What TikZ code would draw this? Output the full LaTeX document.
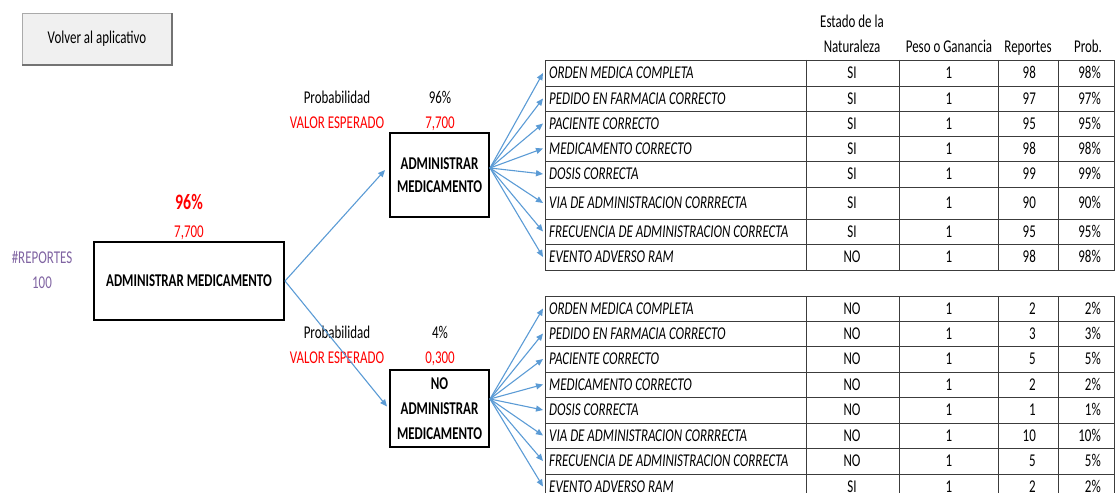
\documentclass[tikz,border=0pt]{standalone}
\usepackage{fontspec}
\setmainfont{Carlito}[FakeStretch=0.72]
\usetikzlibrary{arrows.meta}

\definecolor{arrowblue}{RGB}{91,155,213}
\definecolor{valred}{RGB}{255,0,0}
\definecolor{repviolet}{RGB}{128,100,162}
\definecolor{btnfill}{RGB}{240,240,240}
\definecolor{btnedge}{RGB}{170,170,170}
\definecolor{gridgray}{RGB}{60,60,60}

\tikzset{%
  % Specifications for style of nodes:
         lbl/.style = {inner sep=0pt, text height=11.6pt, text depth=0pt, font=\fontsize{18}{20}\selectfont},
         val/.style = {lbl, text=valred},
         box/.style = {rectangle, draw=black, line width=2pt, align=center, inner sep=0pt, font=\fontsize{18}{23}\selectfont\bfseries},
         btn/.style = {rectangle, draw=btnedge, fill=btnfill, minimum width=150pt, minimum height=51pt, font=\fontsize{18}{20}\selectfont},
        cell/.style = {lbl},
        grid/.style = {draw=gridgray, line width=0.9pt},
         arr/.style = {draw=arrowblue, line width=1.1pt, -{Triangle[length=7pt,width=6pt]}},
}

\begin{document}
\begin{tikzpicture}[x=1pt, y=-1pt]
    \clip (0,0) rectangle (1115,492);

    % Draw nodes
    \node (volver)    [btn]                  at (97,39)   {Volver al aplicativo};
    \draw[black!55, line width=2pt] (volver.north east) -- (volver.south east) -- (volver.south west);

    \node (reportes)  [lbl, text=repviolet]  at (42,258)  {\#REPORTES};
    \node (nrep)      [lbl, text=repviolet]  at (42,283)  {100};
    \node (probmain)  [val, font=\fontsize{22}{24}\selectfont\bfseries, text height=13.9pt] at (189,203) {96\%};
    \node (valmain)   [val]                  at (189,232) {7,700};
    \node (main)      [box, minimum width=190pt, minimum height=78pt] at (189,281) {ADMINISTRAR MEDICAMENTO};

    \node (probA)     [lbl]                  at (337,98)  {Probabilidad};
    \node (probAv)    [lbl]                  at (440,98)  {96\%};
    \node (esperA)    [val]                  at (337,123) {VALOR ESPERADO};
    \node (esperAv)   [val]                  at (440,123) {7,700};
    \node (admin)     [box, minimum width=99pt, minimum height=84pt] at (439.5,175) {ADMINISTRAR\\MEDICAMENTO};

    \node (probB)     [lbl]                  at (337,333) {Probabilidad};
    \node (probBv)    [lbl]                  at (440,333) {4\%};
    \node (esperB)    [val]                  at (337,358) {VALOR ESPERADO};
    \node (esperBv)   [val]                  at (440,358) {0,300};
    \node (noadmin)   [box, minimum width=99pt, minimum height=77pt, font=\fontsize{18}{25}\selectfont\bfseries] at (439.5,408.5) {NO\\ADMINISTRAR\\MEDICAMENTO};

    % Table header
    \node (estado)    [lbl]                  at (852,22)  {Estado de la};
    \node (natur)     [lbl]                  at (852,47)  {Naturaleza};
    \node (peso)      [lbl]                  at (949,47)  {Peso o Ganancia};
    \node (reps)      [lbl]                  at (1028,47) {Reportes};
    \node (prob)      [lbl]                  at (1088,47) {Prob.};

    % Upper table
    \foreach \ya/\yb/\lbltext/\est/\rep [count=\i] in {
        60/86/ORDEN MEDICA COMPLETA/SI/98,
        86/111/PEDIDO EN FARMACIA CORRECTO/SI/97,
        111/136/PACIENTE CORRECTO/SI/95,
        136/161/MEDICAMENTO CORRECTO/SI/98,
        161/187/DOSIS CORRECTA/SI/99,
        187/219/VIA DE ADMINISTRACION CORRRECTA/SI/90,
        219/244/FRECUENCIA DE ADMINISTRACION CORRECTA/SI/95,
        244/270/EVENTO ADVERSO RAM/NO/98}{
      \draw[grid] (545,\ya) rectangle (1114,\yb);
      \foreach \x in {806,899,998,1058} \draw[grid] (\x,\ya) -- (\x,\yb);
      \node (rowA\i) [cell, anchor=west] at (549,{(\ya+\yb)/2}) {\itshape \lbltext};
      \node [cell] at (852,{(\ya+\yb)/2}) {\est};
      \node [cell] at (949,{(\ya+\yb)/2}) {1};
      \node [cell, anchor=east] at (1036,{(\ya+\yb)/2}) {\rep};
      \node [cell, anchor=east] at (1101,{(\ya+\yb)/2}) {\rep\%};
    }

    % Lower table
    \foreach \ya/\yb/\lbltext/\est/\rep [count=\i] in {
        296/321/ORDEN MEDICA COMPLETA/NO/2,
        321/346/PEDIDO EN FARMACIA CORRECTO/NO/3,
        346/372/PACIENTE CORRECTO/NO/5,
        372/397/MEDICAMENTO CORRECTO/NO/2,
        397/423/DOSIS CORRECTA/NO/1,
        423/448/VIA DE ADMINISTRACION CORRRECTA/NO/10,
        448/474/FRECUENCIA DE ADMINISTRACION CORRECTA/NO/5,
        474/499/EVENTO ADVERSO RAM/SI/2}{
      \draw[grid] (545,\ya) rectangle (1114,\yb);
      \foreach \x in {806,899,998,1058} \draw[grid] (\x,\ya) -- (\x,\yb);
      \node (rowB\i) [cell, anchor=west] at (549,{(\ya+\yb)/2}) {\itshape \lbltext};
      \node [cell] at (852,{(\ya+\yb)/2}) {\est};
      \node [cell] at (949,{(\ya+\yb)/2}) {1};
      \node [cell, anchor=east] at (1036,{(\ya+\yb)/2}) {\rep};
      \node [cell, anchor=east] at (1101,{(\ya+\yb)/2}) {\rep\%};
    }

    % Draw arrows
    \draw[arr]  (main.east) -- ([shift={(-4,-5)}]admin.west);
    \draw[arr]  (main.east) -- ([shift={(-2,-2)}]noadmin.west);

    \coordinate (fanA) at (490,168);
    \coordinate (fanB) at (490,399);
    \foreach \i in {1,...,8} {
      \draw[arr] (fanA) -- ([xshift=-6pt]rowA\i.west);
      \draw[arr] (fanB) -- ([xshift=-6pt]rowB\i.west);
    }
\end{tikzpicture}
\end{document}
